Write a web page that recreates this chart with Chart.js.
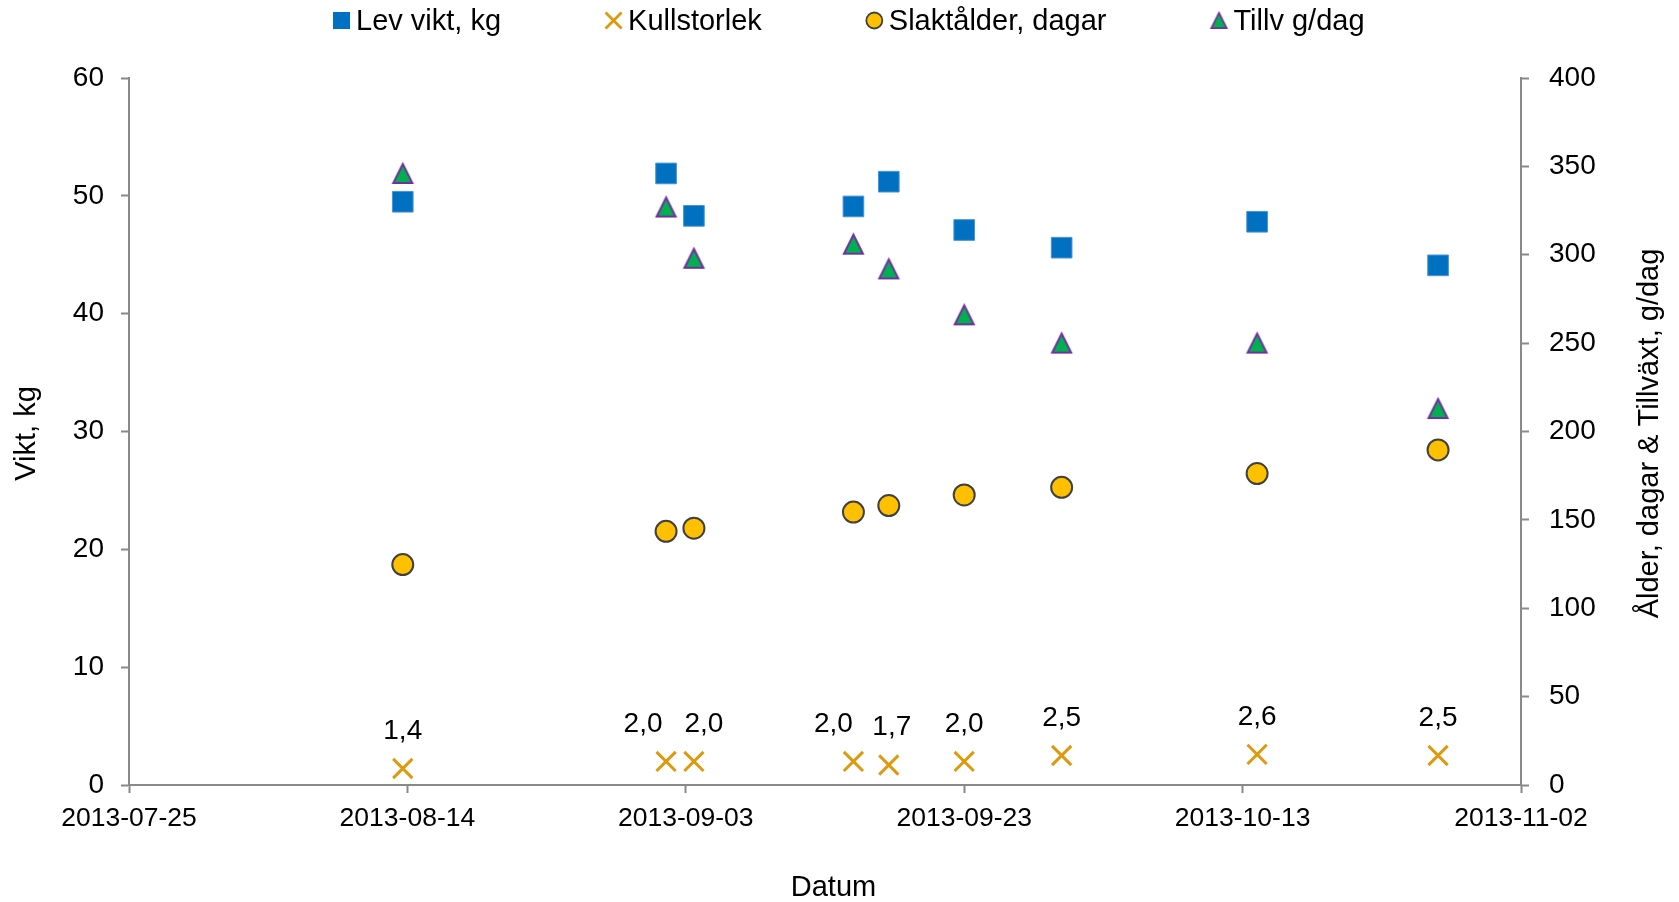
<!DOCTYPE html>
<html>
<head>
<meta charset="utf-8">
<script src="https://cdn.jsdelivr.net/npm/chart.js@4.4.1/dist/chart.umd.min.js"></script>
<style>
  html, body { margin: 0; padding: 0; background: #ffffff; overflow: hidden; }
  #wrap { width: 1679px; height: 902px; }
</style>
</head>
<body>
<div id="wrap"><canvas id="chart" width="1679" height="902"></canvas></div>
<script>
// Slaughter batches: date, live weight, litter size, age at slaughter, daily gain
const datum       = ['2013-08-13 16:00', '2013-09-01 14:00', '2013-09-03 14:00', '2013-09-15 01:00', '2013-09-17 14:00',
                     '2013-09-23 00:00', '2013-09-30 00:00', '2013-10-14 01:00', '2013-10-27 01:00'];
const levVikt     = [49.5, 51.9, 48.3, 49.1, 51.2, 47.1, 45.6, 47.8, 44.1];
const kullstorlek = [1.4, 2.0, 2.0, 2.0, 1.7, 2.0, 2.5, 2.6, 2.5];
const slaktalder  = [124.7, 143.5, 145.3, 154.4, 158.1, 164.1, 168.4, 176.2, 189.6];
const tillvaxt    = [346, 327, 298, 306, 292, 266, 250, 250, 213];
const xTickLabels = ['2013-07-25', '2013-08-14', '2013-09-03', '2013-09-23', '2013-10-13', '2013-11-02'];
const seriesNames = ['Lev vikt, kg', 'Kullstorlek', 'Slaktålder, dagar', 'Tillv g/dag'];

const FONT = "'Liberation Sans', Arial, sans-serif";
const AXIS_GREY = '#898989';
const COLORS = {
  vikt: '#0070C0', viktEdge: '#4A93D8',
  kull: '#DC9A0E',
  alder: '#FFC000', alderEdge: '#404040',
  tillv: '#00B050', tillvEdge: '#7030A0'
};

function toMs(s) {
  const [d, t = '00:00'] = s.split(' ');
  const [Y, M, D] = d.split('-').map(Number);
  const [h, m] = t.split(':').map(Number);
  return Date.UTC(Y, M - 1, D, h, m);
}
function fmtDate(ms) {
  const d = new Date(ms);
  return d.getUTCFullYear() + '-' + String(d.getUTCMonth() + 1).padStart(2, '0') + '-' +
         String(d.getUTCDate()).padStart(2, '0');
}
function pts(values) {
  return datum.map((d, i) => ({ x: toMs(d), y: values[i] }));
}

// Upward triangle marker, centred on its bounding box
function makeTriangle(size, lw) {
  const c = document.createElement('canvas');
  c.width = size + 4; c.height = size + 4;
  const g = c.getContext('2d');
  const o = 2;
  g.beginPath();
  g.moveTo(o + size / 2, o + lw / 2);
  g.lineTo(o + size - lw / 2, o + size - lw / 2);
  g.lineTo(o + lw / 2, o + size - lw / 2);
  g.closePath();
  g.fillStyle = COLORS.tillv;
  g.fill();
  g.lineWidth = lw;
  g.lineJoin = 'miter';
  g.strokeStyle = COLORS.tillvEdge;
  g.stroke();
  return c;
}
const triMarker = makeTriangle(21, 2);
const triLegend = makeTriangle(17, 1.8);

// Value labels above the litter-size crosses
const valueLabels = {
  id: 'valueLabels',
  afterDatasetsDraw(chart, args, opts) {
    const meta = chart.getDatasetMeta(opts.datasetIndex);
    const ctx = chart.ctx;
    ctx.save();
    ctx.font = opts.size + 'px ' + FONT;
    ctx.fillStyle = '#000';
    ctx.textAlign = 'center';
    ctx.textBaseline = 'middle';
    meta.data.forEach((el, i) => {
      const v = chart.data.datasets[opts.datasetIndex].data[i].y;
      const txt = v.toFixed(1).replace('.', ',');
      ctx.fillText(txt, el.x + (opts.nudgeX[i] || 0), el.y + opts.offsetY);
    });
    ctx.restore();
  }
};

// Legend row and axis titles
const decorations = {
  id: 'decorations',
  afterDraw(chart, args, opts) {
    const ctx = chart.ctx;
    const area = chart.chartArea;
    ctx.save();
    // legend
    ctx.font = opts.legendSize + 'px ' + FONT;
    ctx.textBaseline = 'middle';
    ctx.textAlign = 'left';
    let x = opts.legendX;
    const y = opts.legendY;
    seriesNames.forEach((name, i) => {
      const cx = x + 8.5;
      if (i === 0) {
        ctx.fillStyle = COLORS.vikt;
        ctx.fillRect(cx - 8.5, y - 8.5, 17, 17);
      } else if (i === 1) {
        ctx.strokeStyle = COLORS.kull;
        ctx.lineWidth = 2.8;
        ctx.beginPath();
        ctx.moveTo(cx - 8, y - 8); ctx.lineTo(cx + 8, y + 8);
        ctx.moveTo(cx + 8, y - 8); ctx.lineTo(cx - 8, y + 8);
        ctx.stroke();
      } else if (i === 2) {
        ctx.beginPath();
        ctx.arc(cx, y, 8, 0, Math.PI * 2);
        ctx.fillStyle = COLORS.alder;
        ctx.fill();
        ctx.lineWidth = 1.8;
        ctx.strokeStyle = COLORS.alderEdge;
        ctx.stroke();
      } else {
        ctx.drawImage(triLegend, cx - triLegend.width / 2, y - triLegend.height / 2);
      }
      ctx.fillStyle = '#000';
      const tx = x + 23;
      ctx.fillText(name, tx, y + 1);
      x = tx + ctx.measureText(name).width + opts.legendGap;
    });

    // axis titles
    ctx.font = opts.titleSize + 'px ' + FONT;
    ctx.textAlign = 'center';
    ctx.textBaseline = 'middle';
    ctx.fillStyle = '#000';
    ctx.fillText('Datum', opts.xTitleX, opts.xTitleY);

    const midY = (area.top + area.bottom) / 2 + 2;
    ctx.save();
    ctx.translate(opts.leftTitleX, midY);
    ctx.rotate(-Math.PI / 2);
    ctx.fillText('Vikt, kg', 0, 0);
    ctx.restore();

    ctx.save();
    ctx.translate(opts.rightTitleX, midY);
    ctx.rotate(-Math.PI / 2);
    ctx.fillText('Ålder, dagar & Tillväxt, g/dag', 0, 0);
    ctx.restore();

    ctx.restore();
  }
};

const axisGrid = {
  drawOnChartArea: false,
  drawTicks: true,
  tickLength: 8,
  tickColor: AXIS_GREY,
  tickWidth: 2,
  color: AXIS_GREY
};
const axisBorder = { display: true, color: AXIS_GREY, width: 2 };

new Chart(document.getElementById('chart'), {
  type: 'scatter',
  data: {
    datasets: [
      {
        label: seriesNames[0], data: pts(levVikt), yAxisID: 'y',
        pointStyle: 'rect', pointRadius: 14.6, pointHoverRadius: 14.6,
        backgroundColor: COLORS.vikt, borderColor: COLORS.viktEdge, borderWidth: 1
      },
      {
        label: seriesNames[1], data: pts(kullstorlek), yAxisID: 'y',
        pointStyle: 'crossRot', pointRadius: 13.6, pointHoverRadius: 13.6,
        backgroundColor: COLORS.kull, borderColor: COLORS.kull, borderWidth: 3
      },
      {
        label: seriesNames[2], data: pts(slaktalder), yAxisID: 'y1',
        pointStyle: 'circle', pointRadius: 10.5, pointHoverRadius: 10.5,
        backgroundColor: COLORS.alder, borderColor: COLORS.alderEdge, borderWidth: 2
      },
      {
        label: seriesNames[3], data: pts(tillvaxt), yAxisID: 'y1',
        pointStyle: triMarker, pointRadius: 11, pointHoverRadius: 11,
        backgroundColor: COLORS.tillv, borderColor: COLORS.tillvEdge, borderWidth: 0
      }
    ]
  },
  options: {
    responsive: false,
    animation: false,
    devicePixelRatio: 1,
    events: [],
    layout: { padding: { top: 78, left: 0, right: 0, bottom: 0 } },
    plugins: {
      legend: { display: false },
      tooltip: { enabled: false },
      valueLabels: { datasetIndex: 1, size: 28, offsetY: -37.5, nudgeX: [0, -23, 10, -20, 3, 0, 0, 0, 0] },
      decorations: {
        legendX: 333, legendY: 20.5, legendSize: 29, legendGap: 104,
        titleSize: 29,
        xTitleX: 833.5, xTitleY: 888,
        leftTitleX: 27, rightTitleX: 1650
      }
    },
    scales: {
      x: {
        type: 'linear',
        min: toMs(xTickLabels[0]),
        max: toMs(xTickLabels[xTickLabels.length - 1]),
        afterBuildTicks: s => { s.ticks = xTickLabels.map(d => ({ value: toMs(d) })); },
        afterFit: s => { s.height = 117; },
        ticks: {
          autoSkip: false, maxRotation: 0, minRotation: 0,
          color: '#000', padding: 10,
          font: { family: FONT, size: 26.5 },
          callback: v => fmtDate(v)
        },
        grid: axisGrid,
        border: axisBorder
      },
      y: {
        position: 'left',
        min: 0, max: 60,
        afterFit: s => { s.width = 129; },
        ticks: { stepSize: 10, color: '#000', padding: 17, font: { family: FONT, size: 28 } },
        grid: axisGrid,
        border: axisBorder
      },
      y1: {
        position: 'right',
        min: 0, max: 400,
        afterFit: s => { s.width = 158; },
        ticks: { stepSize: 50, color: '#000', padding: 20, font: { family: FONT, size: 28 } },
        grid: axisGrid,
        border: axisBorder
      }
    }
  },
  plugins: [valueLabels, decorations]
});
</script>
</body>
</html>
